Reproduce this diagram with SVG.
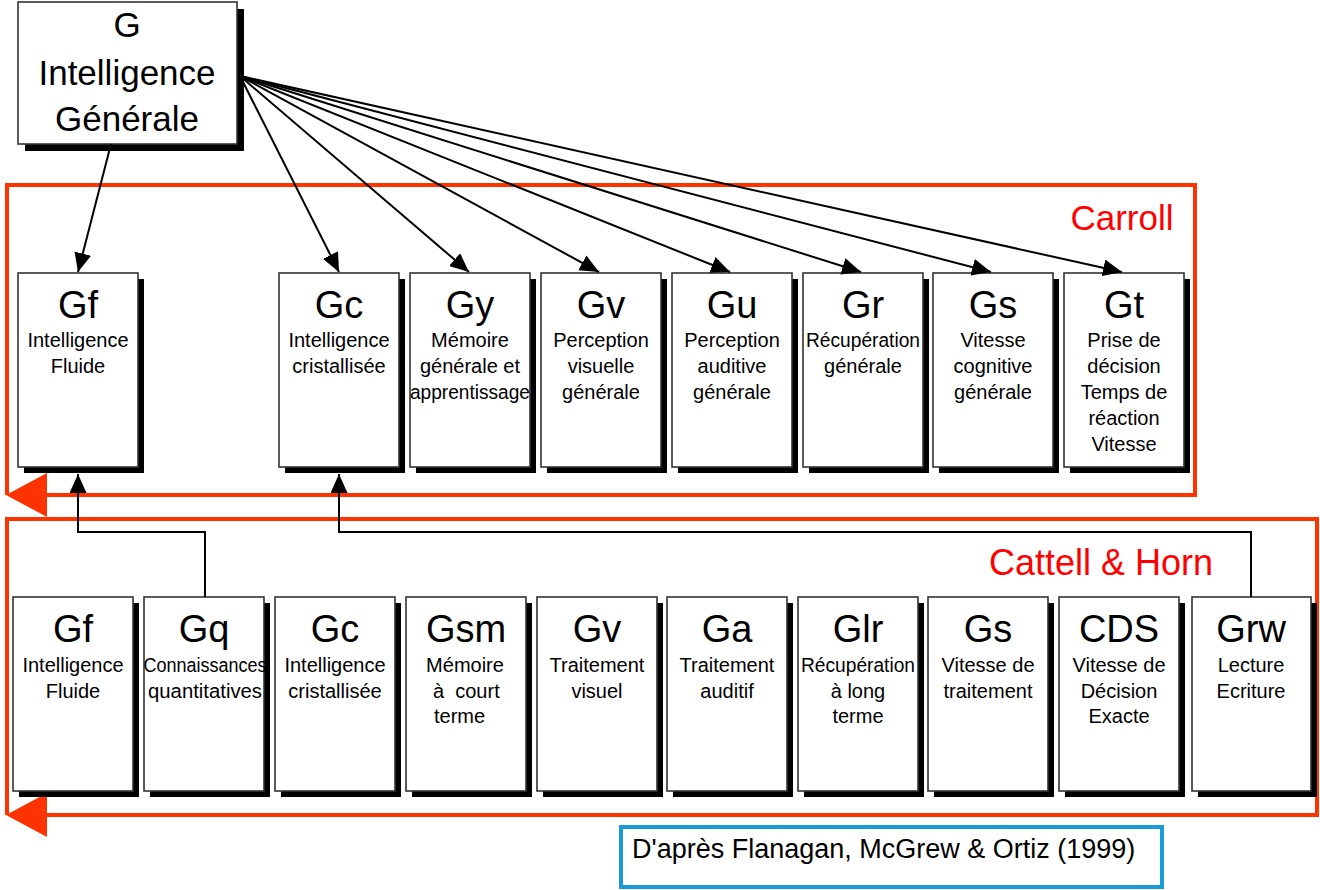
<svg xmlns="http://www.w3.org/2000/svg" width="1320" height="890" viewBox="0 0 1320 890">
<defs>
<marker id="ah" markerUnits="userSpaceOnUse" markerWidth="20" markerHeight="18" refX="19" refY="8.5" orient="auto"><path d="M0,0 L19,8.5 L0,17 z" fill="#000"/></marker>
<style>
.box{fill:#fff;stroke:#333;stroke-width:1.6}
.sh{fill:#000}
text{font-family:"Liberation Sans",Arial,sans-serif;fill:#000;text-anchor:middle}
.t{font-size:38px}
.s{font-size:20px}
.g{font-size:35px}
.red{stroke:#ff3300;stroke-width:4;fill:none}
.redf{fill:#ff3300}
.lab{fill:#ff0000;font-size:35px}
.con{stroke:#000;stroke-width:2;fill:none}
</style>
</defs>
<rect width="1320" height="890" fill="#fff"/>

<g id="frame-carroll">
<path class="red" d="M7,495 V185 H1195 V495 H40"/>
<polygon class="redf" points="6,495 47,473 47,517"/>
<text class="lab" x="1122" y="230">Carroll</text>
</g>
<g id="frame-cattell">
<path class="red" d="M7,815 V519 H1317 V815 H40"/>
<polygon class="redf" points="6,815 47,793 47,837"/>
<text class="lab" x="1101" y="575" style="font-size:36px">Cattell &amp; Horn</text>
</g>

<g id="G">
<rect class="sh" x="25" y="9" width="219" height="142"/>
<rect class="box" x="18" y="2" width="219" height="142"/>
<text class="g" x="127" y="37">G</text>
<text class="g" x="127" y="85">Intelligence</text>
<text class="g" x="127" y="131">Générale</text>
</g>

<g id="c-Gf"><rect class="sh" x="24" y="279" width="120" height="194"/><rect class="box" x="18" y="273" width="120" height="194"/>
<text class="t" x="78" y="318">Gf</text><text class="s" x="78" y="347">Intelligence</text><text class="s" x="78" y="373">Fluide</text></g>
<g id="c-Gc"><rect class="sh" x="285" y="279" width="120" height="194"/><rect class="box" x="279" y="273" width="120" height="194"/>
<text class="t" x="339" y="318">Gc</text><text class="s" x="339" y="347">Intelligence</text><text class="s" x="339" y="373">cristallisée</text></g>
<g id="c-Gy"><rect class="sh" x="416" y="279" width="120" height="194"/><rect class="box" x="410" y="273" width="120" height="194"/>
<text class="s" x="470" y="347">Mémoire</text><text class="t" x="470" y="318">Gy</text><text class="s" x="470" y="373">générale et</text><text class="s" x="470" y="399" textLength="120" lengthAdjust="spacingAndGlyphs">apprentissage</text></g>
<g id="c-Gv"><rect class="sh" x="547" y="279" width="120" height="194"/><rect class="box" x="541" y="273" width="120" height="194"/>
<text class="t" x="601" y="318">Gv</text><text class="s" x="601" y="347">Perception</text><text class="s" x="601" y="373">visuelle</text><text class="s" x="601" y="399">générale</text></g>
<g id="c-Gu"><rect class="sh" x="678" y="279" width="120" height="194"/><rect class="box" x="672" y="273" width="120" height="194"/>
<text class="t" x="732" y="318">Gu</text><text class="s" x="732" y="347">Perception</text><text class="s" x="732" y="373">auditive</text><text class="s" x="732" y="399">générale</text></g>
<g id="c-Gr"><rect class="sh" x="809" y="279" width="120" height="194"/><rect class="box" x="803" y="273" width="120" height="194"/>
<text class="t" x="863" y="318">Gr</text><text class="s" x="863" y="347" textLength="114" lengthAdjust="spacingAndGlyphs">Récupération</text><text class="s" x="863" y="373">générale</text></g>
<g id="c-Gs"><rect class="sh" x="939" y="279" width="120" height="194"/><rect class="box" x="933" y="273" width="120" height="194"/>
<text class="t" x="993" y="318">Gs</text><text class="s" x="993" y="347">Vitesse</text><text class="s" x="993" y="373">cognitive</text><text class="s" x="993" y="399">générale</text></g>
<g id="c-Gt"><rect class="sh" x="1070" y="279" width="120" height="194"/><rect class="box" x="1064" y="273" width="120" height="194"/>
<text class="t" x="1124" y="318">Gt</text><text class="s" x="1124" y="347">Prise de</text><text class="s" x="1124" y="373">décision</text><text class="s" x="1124" y="399">Temps de</text><text class="s" x="1124" y="425">réaction</text><text class="s" x="1124" y="451">Vitesse</text></g>

<g id="h-Gf"><rect class="sh" x="19" y="603" width="120" height="194"/><rect class="box" x="13" y="597" width="120" height="194"/>
<text class="t" x="73" y="642">Gf</text><text class="s" x="73" y="672">Intelligence</text><text class="s" x="73" y="698">Fluide</text></g>
<g id="h-Gq"><rect class="sh" x="150" y="603" width="120" height="194"/><rect class="box" x="144" y="597" width="120" height="194"/>
<text class="t" x="204" y="642">Gq</text><text class="s" x="205" y="672" textLength="123" lengthAdjust="spacingAndGlyphs">Connaissances</text><text class="s" x="205" y="698" textLength="114" lengthAdjust="spacingAndGlyphs">quantitatives</text></g>
<g id="h-Gc"><rect class="sh" x="281" y="603" width="120" height="194"/><rect class="box" x="275" y="597" width="120" height="194"/>
<text class="t" x="335" y="642">Gc</text><text class="s" x="335" y="672">Intelligence</text><text class="s" x="335" y="698">cristallisée</text></g>
<g id="h-Gsm"><rect class="sh" x="412" y="603" width="120" height="194"/><rect class="box" x="406" y="597" width="120" height="194"/>
<text class="t" x="466" y="642">Gsm</text><text class="s" x="465" y="672">Mémoire</text><text class="s" x="433" y="698" style="text-anchor:start;white-space:pre" xml:space="preserve">à  court</text><text class="s" x="434" y="723" style="text-anchor:start">terme</text></g>
<g id="h-Gv"><rect class="sh" x="543" y="603" width="120" height="194"/><rect class="box" x="537" y="597" width="120" height="194"/>
<text class="t" x="597" y="642">Gv</text><text class="s" x="597" y="672">Traitement</text><text class="s" x="597" y="698">visuel</text></g>
<g id="h-Ga"><rect class="sh" x="673" y="603" width="120" height="194"/><rect class="box" x="667" y="597" width="120" height="194"/>
<text class="t" x="727" y="642">Ga</text><text class="s" x="727" y="672">Traitement</text><text class="s" x="727" y="698">auditif</text></g>
<g id="h-Glr"><rect class="sh" x="804" y="603" width="120" height="194"/><rect class="box" x="798" y="597" width="120" height="194"/>
<text class="t" x="858" y="642">Glr</text><text class="s" x="858" y="672" textLength="114" lengthAdjust="spacingAndGlyphs">Récupération</text><text class="s" x="858" y="698">à long</text><text class="s" x="858" y="723">terme</text></g>
<g id="h-Gs"><rect class="sh" x="934" y="603" width="120" height="194"/><rect class="box" x="928" y="597" width="120" height="194"/>
<text class="t" x="988" y="642">Gs</text><text class="s" x="988" y="672">Vitesse de</text><text class="s" x="988" y="698">traitement</text></g>
<g id="h-CDS"><rect class="sh" x="1065" y="603" width="120" height="194"/><rect class="box" x="1059" y="597" width="120" height="194"/>
<text class="t" x="1119" y="642">CDS</text><text class="s" x="1119" y="672">Vitesse de</text><text class="s" x="1119" y="698">Décision</text><text class="s" x="1119" y="723">Exacte</text></g>
<g id="h-Grw"><rect class="sh" x="1198" y="603" width="119" height="194"/><rect class="box" x="1192" y="597" width="119" height="194"/>
<text class="t" x="1251" y="642">Grw</text><text class="s" x="1251" y="672">Lecture</text><text class="s" x="1251" y="698">Ecriture</text></g>

<g id="source">
<rect x="621" y="827" width="541" height="60" fill="#fff" stroke="#1a9ad6" stroke-width="4"/>
<text x="632" y="858" style="font-size:27px;text-anchor:start">D'après Flanagan, McGrew &amp; Ortiz (1999)</text>
</g>

<g id="connectors">
<line class="con" x1="111" y1="144" x2="78" y2="272" marker-end="url(#ah)"/>
<line class="con" x1="240" y1="76" x2="339" y2="272" marker-end="url(#ah)"/>
<line class="con" x1="240" y1="76" x2="469" y2="272" marker-end="url(#ah)"/>
<line class="con" x1="240" y1="76" x2="599" y2="272" marker-end="url(#ah)"/>
<line class="con" x1="240" y1="76" x2="730" y2="272" marker-end="url(#ah)"/>
<line class="con" x1="240" y1="76" x2="861" y2="272" marker-end="url(#ah)"/>
<line class="con" x1="240" y1="76" x2="991" y2="272" marker-end="url(#ah)"/>
<line class="con" x1="240" y1="76" x2="1122" y2="272" marker-end="url(#ah)"/>
<path class="con" d="M205,597 V532 H78 V474" marker-end="url(#ah)"/>
<path class="con" d="M1251,597 V532 H339 V474" marker-end="url(#ah)"/>
</g>
</svg>
